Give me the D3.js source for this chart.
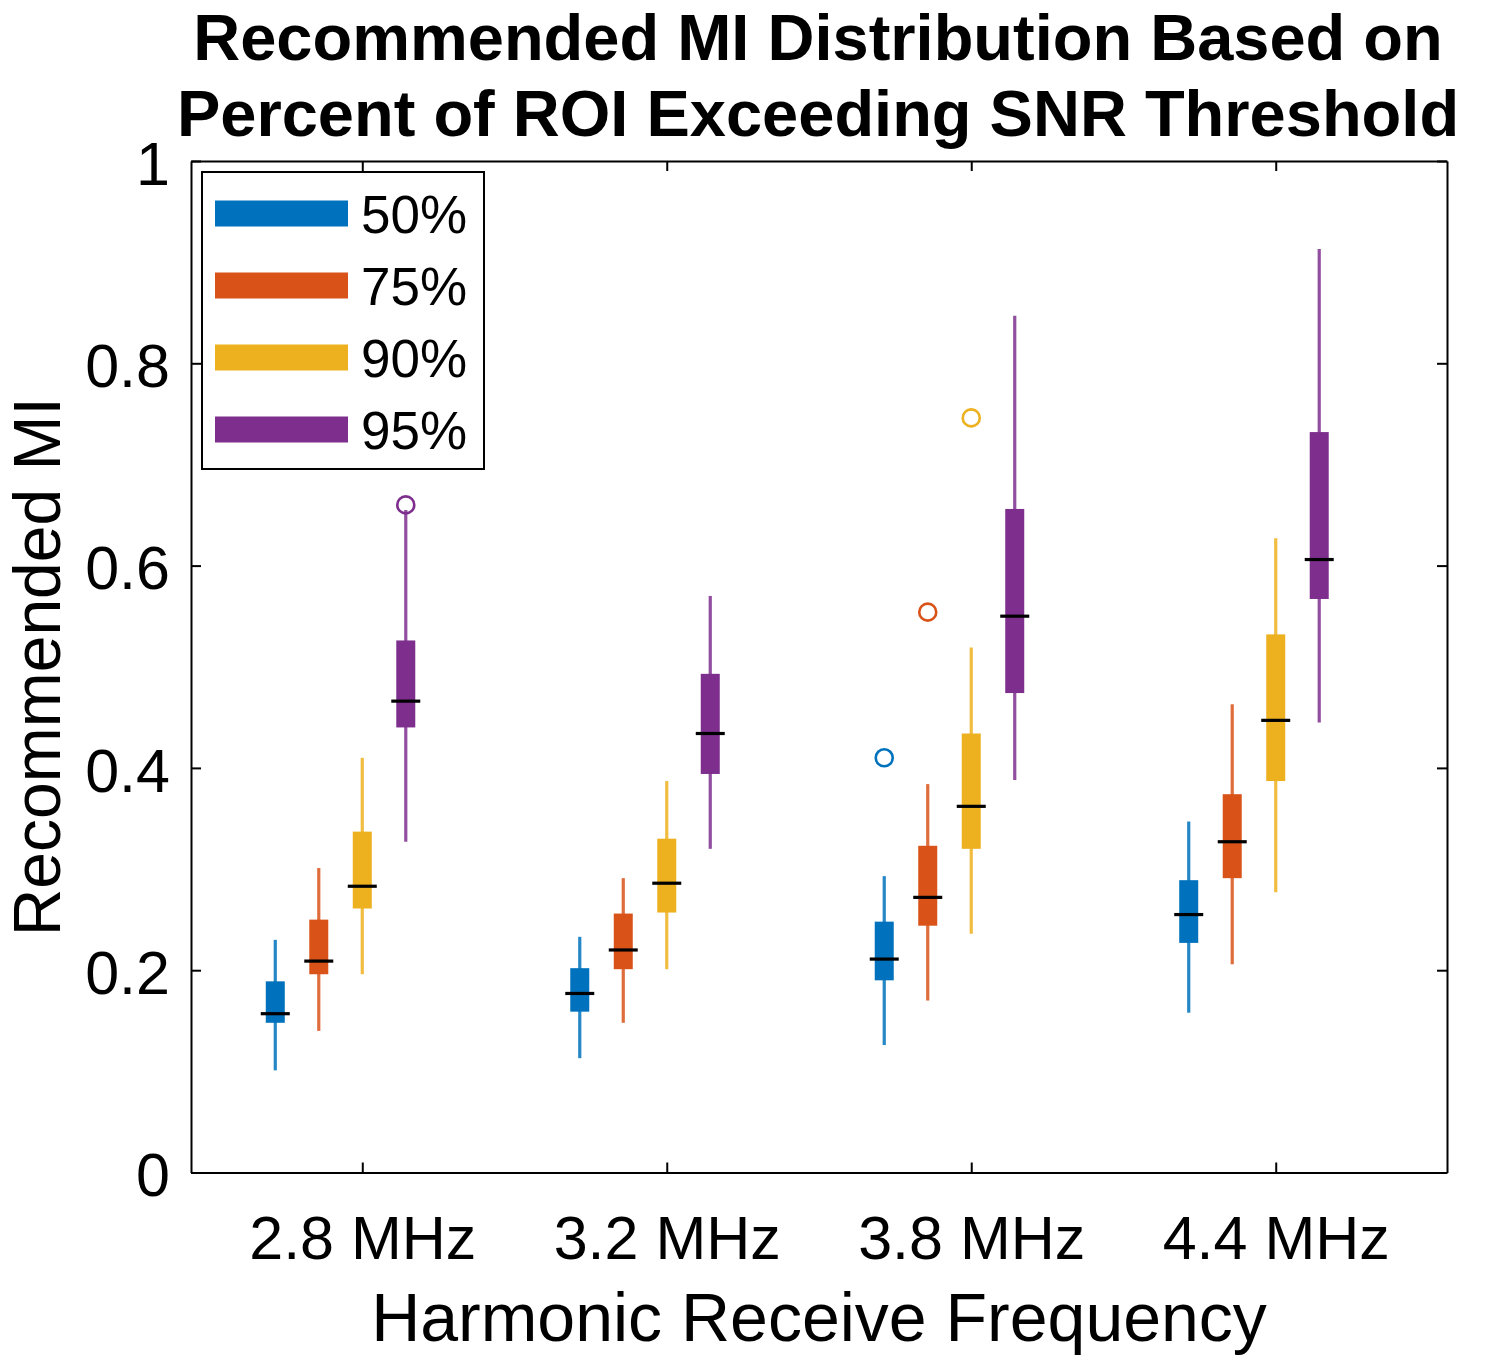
<!DOCTYPE html>
<html>
<head>
<meta charset="utf-8">
<script src="https://cdn.jsdelivr.net/npm/d3@7"></script>
<style>
  html, body { margin: 0; padding: 0; background: #fff; }
  svg text { font-family: "Liberation Sans", Arial, Helvetica, sans-serif; fill: #000; }
</style>
</head>
<body>
<svg id="chart" width="1500" height="1357"></svg>
<script>
// ---------------- data ----------------
const categories = ["2.8 MHz", "3.2 MHz", "3.8 MHz", "4.4 MHz"];
const series = ["50%", "75%", "90%", "95%"];
const seriesColors = ["#0072BD", "#D95319", "#EDB120", "#7E2F8E"];
const yTicks = [0, 0.2, 0.4, 0.6, 0.8, 1];
const titleLines = ["Recommended MI Distribution Based on", "Percent of ROI Exceeding SNR Threshold"];
const xLabel = "Harmonic Receive Frequency";
const yLabel = "Recommended MI";

// rows = series (50,75,90,95 %), columns = categories
const lowWhisker = [
  [0.101, 0.113, 0.126, 0.158],
  [0.140, 0.148, 0.170, 0.206],
  [0.196, 0.201, 0.236, 0.277],
  [0.327, 0.320, 0.388, 0.445]
];
const q1 = [
  [0.148, 0.159, 0.190, 0.227],
  [0.196, 0.201, 0.244, 0.291],
  [0.261, 0.257, 0.320, 0.387],
  [0.440, 0.394, 0.474, 0.567]
];
const median = [
  [0.157, 0.177, 0.211, 0.255],
  [0.209, 0.220, 0.272, 0.327],
  [0.283, 0.286, 0.362, 0.447],
  [0.466, 0.434, 0.550, 0.606]
];
const q3 = [
  [0.189, 0.202, 0.248, 0.289],
  [0.250, 0.256, 0.323, 0.374],
  [0.337, 0.330, 0.434, 0.532],
  [0.526, 0.493, 0.656, 0.732]
];
const highWhisker = [
  [0.230, 0.233, 0.293, 0.347],
  [0.301, 0.291, 0.384, 0.463],
  [0.410, 0.387, 0.519, 0.627],
  [0.655, 0.570, 0.847, 0.913]
];
// outliers: [seriesIndex, categoryIndex, value]
const outlierSeries = [3, 0, 1, 2];
const outlierCategory = [0, 2, 2, 2];
const outlierValue = [0.660, 0.410, 0.554, 0.746];

// ---------------- layout ----------------
const svg = d3.select("#chart");
const plot = { left: 191, top: 161, right: 1447, bottom: 1172.5 };
const W = plot.right - plot.left, H = plot.bottom - plot.top;
const FONT = '"Liberation Sans", Arial, Helvetica, sans-serif';

const y = d3.scaleLinear().domain([0, 1]).range([H, 0]);
const xCat = d3.scalePoint().domain(categories).range([0, W]).padding(0.5625);
const xOff = d3.scalePoint().domain(series).range([-87, 43.5]);

const g = svg.append("g").attr("transform", `translate(${plot.left},${plot.top})`);

// boxes
const boxes = [];
series.forEach((s, si) => {
  categories.forEach((c, ci) => {
    boxes.push({ s, si, c, ci,
      lo: lowWhisker[si][ci], q1: q1[si][ci], med: median[si][ci],
      q3: q3[si][ci], hi: highWhisker[si][ci] });
  });
});
const cx = d => xCat(d.c) + xOff(d.s);

const bg = g.append("g").attr("class", "boxes");
bg.selectAll("line.whisker").data(boxes).join("line")
  .attr("class", "whisker")
  .attr("x1", cx).attr("x2", cx)
  .attr("y1", d => y(d.lo)).attr("y2", d => y(d.hi))
  .attr("stroke", d => seriesColors[d.si]).attr("stroke-width", 3.2)
  .attr("stroke-opacity", 0.85);
bg.selectAll("rect.box").data(boxes).join("rect")
  .attr("class", "box")
  .attr("x", d => cx(d) - 9.5).attr("width", 19)
  .attr("y", d => y(d.q3)).attr("height", d => y(d.q1) - y(d.q3))
  .attr("fill", d => seriesColors[d.si]);
bg.selectAll("line.median").data(boxes).join("line")
  .attr("class", "median")
  .attr("x1", d => cx(d) - 14.5).attr("x2", d => cx(d) + 14.5)
  .attr("y1", d => y(d.med)).attr("y2", d => y(d.med))
  .attr("stroke", "#000").attr("stroke-width", 3.2);

const outliers = outlierValue.map((v, i) => ({ si: outlierSeries[i], ci: outlierCategory[i], v }));
bg.selectAll("circle.outlier").data(outliers).join("circle")
  .attr("class", "outlier")
  .attr("cx", d => xCat(categories[d.ci]) + xOff(series[d.si]))
  .attr("cy", d => y(d.v)).attr("r", 8.5)
  .attr("fill", "none").attr("stroke", d => seriesColors[d.si]).attr("stroke-width", 2.6);

// axes (inside ticks, box on)
function styleAxis(sel) {
  sel.attr("font-family", FONT);
  sel.selectAll("path.domain").attr("stroke", "#000").attr("stroke-width", 2);
  sel.selectAll(".tick line").attr("stroke", "#000").attr("stroke-width", 2);
}
const axL = g.append("g")
  .call(d3.axisLeft(y).tickValues(yTicks).tickFormat(d3.format("")).tickSize(-10).tickSizeOuter(0).tickPadding(21));
styleAxis(axL);
axL.selectAll(".tick text").attr("font-size", 61).attr("dy", "0.38em");

const axR = g.append("g").attr("transform", `translate(${W},0)`)
  .call(d3.axisRight(y).tickValues(yTicks).tickFormat("").tickSize(-10).tickSizeOuter(0));
styleAxis(axR);

const axB = g.append("g").attr("transform", `translate(0,${H})`)
  .call(d3.axisBottom(xCat).tickSize(-10).tickSizeOuter(0).tickPadding(0));
styleAxis(axB);
axB.selectAll(".tick text").attr("font-size", 61).attr("y", 86.5).attr("dy", 0);

const axT = g.append("g")
  .call(d3.axisTop(xCat).tickFormat("").tickSize(-10).tickSizeOuter(0));
styleAxis(axT);

// legend
const leg = svg.append("g").attr("transform", "translate(202,172)");
leg.append("rect").attr("width", 282).attr("height", 297)
  .attr("fill", "#fff").attr("stroke", "#000").attr("stroke-width", 2);
const legY = d3.scalePoint().domain(series).range([41.5, 257.5]);
const items = leg.selectAll("g.item").data(series).join("g")
  .attr("class", "item").attr("transform", d => `translate(0,${legY(d)})`);
items.append("rect").attr("x", 13).attr("y", -13).attr("width", 133).attr("height", 26)
  .attr("fill", (d, i) => seriesColors[i]);
items.append("text").attr("x", 159).attr("dy", "0.36em")
  .attr("font-size", 53).text(d => d);

// titles and labels
const title = svg.append("text").attr("text-anchor", "middle")
  .attr("font-size", 65).attr("font-weight", "bold");
titleLines.forEach((t, i) => {
  title.append("tspan").attr("x", 818).attr("y", 60 + i * 76).text(t);
});

svg.append("text").attr("text-anchor", "middle").attr("font-size", 68)
  .attr("x", plot.left + W / 2).attr("y", 1341).text(xLabel);

svg.append("text").attr("text-anchor", "middle").attr("font-size", 66)
  .attr("transform", `translate(60,${plot.top + H / 2}) rotate(-90)`).text(yLabel);
</script>
</body>
</html>
